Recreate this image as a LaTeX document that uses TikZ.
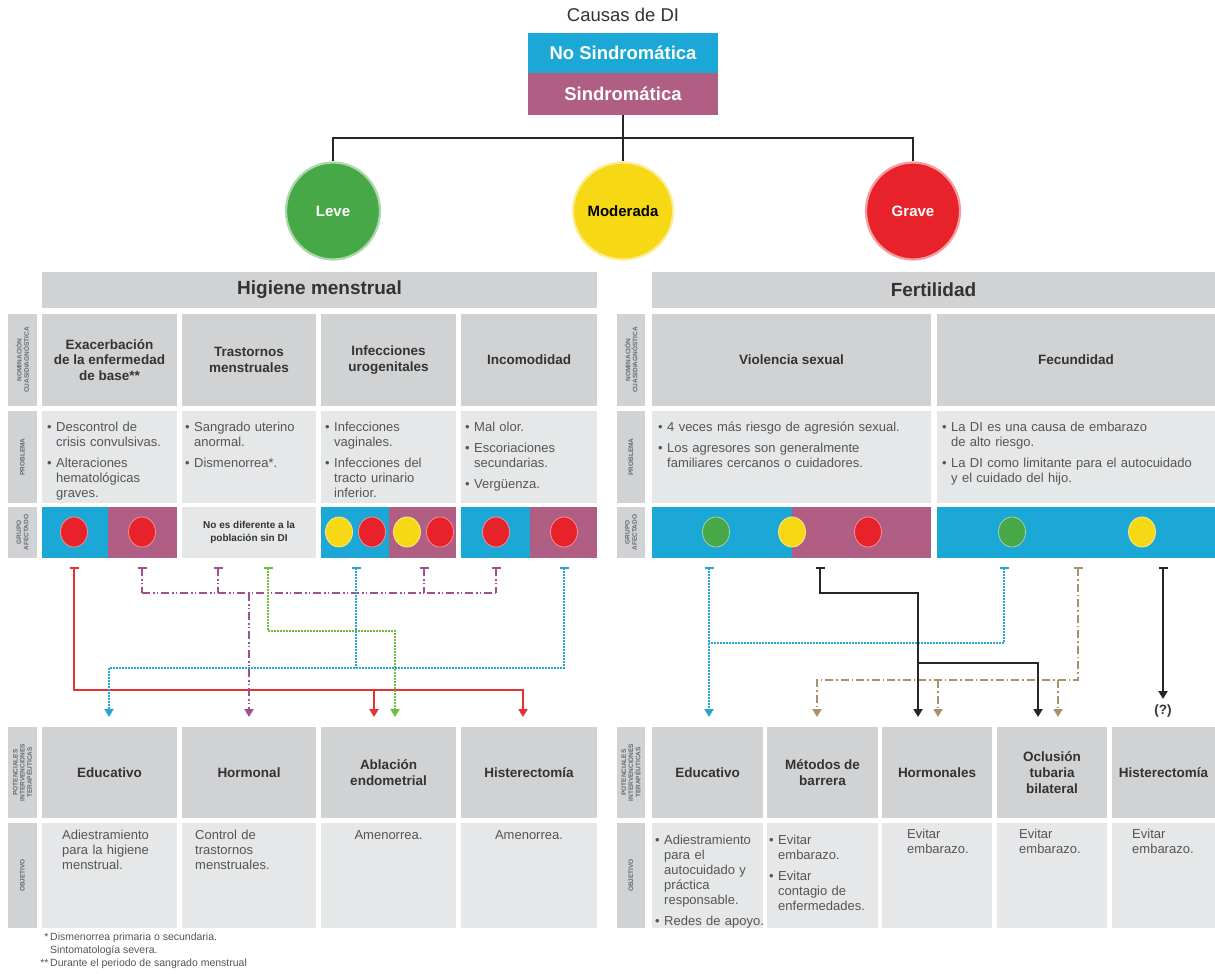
\documentclass[tikz,border=0pt]{standalone}
\usepackage{fontspec}
\setmainfont{Liberation Sans}
\usetikzlibrary{arrows.meta,shapes.geometric}
\definecolor{hdr}{RGB}{209,210,212}
\definecolor{lite}{RGB}{230,231,232}
\definecolor{cblue}{RGB}{27,168,214}
\definecolor{cmauve}{RGB}{176,94,132}
\definecolor{cgreen}{RGB}{70,168,70}
\definecolor{cyellow}{RGB}{246,216,20}
\definecolor{cred}{RGB}{232,34,43}
\definecolor{txt}{RGB}{51,51,51}
\definecolor{bodyg}{RGB}{85,85,85}
\definecolor{labg}{RGB}{105,106,110}
\definecolor{lred}{RGB}{228,50,50}
\definecolor{lgreen}{RGB}{110,190,60}
\definecolor{lblue}{RGB}{40,165,215}
\definecolor{lpurple}{RGB}{160,80,145}
\definecolor{lbrown}{RGB}{170,145,110}
\newcommand{\brk}{\hfil\break}
\newcommand{\itm}[1]{\par\hangindent=9pt\hangafter=1\noindent\makebox[9pt][l]{\textbullet}#1\par\vspace{6pt}}
\begin{document}
\begin{tikzpicture}[x=1pt,y=-1pt,
  cellbox/.style={draw=none, inner sep=0pt, outer sep=0pt},
  hd/.style={cellbox, fill=hdr, text=txt, font=\fontsize{13.5}{15.5}\selectfont\bfseries, align=center},
  bighd/.style={cellbox, fill=hdr, text=txt, font=\fontsize{19}{21}\selectfont\bfseries},
  lt/.style={cellbox, fill=lite},
  bl/.style={cellbox, fill=cblue},
  mv/.style={cellbox, fill=cmauve},
  labn/.style={cellbox, fill=hdr, rotate=90, text=labg, align=center, font=\fontsize{6.5}{7.2}\selectfont\bfseries},
  body/.style={anchor=north west, inner sep=0pt, text width=#1, align=left, text=bodyg, font=\fontsize{13}{15}\selectfont},
  body/.default=130pt,
  gdot/.style={ellipse, fill=#1, draw=#1!50!white, line width=0.8pt, minimum width=27pt, minimum height=30pt, inner sep=0pt},
  bigc/.style={ellipse, fill=#1, draw=#1!45!white, line width=2.2pt, minimum width=94pt, minimum height=97pt, inner sep=0pt, font=\fontsize{15}{17}\selectfont\bfseries},
  topln/.style={line width=2.2pt, draw=black!85},
  conn/.style={line width=2pt},
  cr/.style={conn, draw=lred},
  ck/.style={conn, draw=black!85},
  cbd/.style={conn, draw=lblue, dash pattern=on 1.6pt off 1.4pt},
  cgd/.style={conn, draw=lgreen, dash pattern=on 1.6pt off 1.4pt},
  cpd/.style={conn, draw=lpurple, dash pattern=on 8pt off 3pt on 1.5pt off 2pt on 1.5pt off 3pt},
  cnd/.style={conn, draw=lbrown, dash pattern=on 8pt off 3pt on 1.5pt off 3pt},
  tbar/.style={{Bar[width=9pt,line width=1.6pt]}-},
  tbarto/.style={{Bar[width=9pt,line width=1.6pt]}-{Triangle[width=9pt,length=8pt]}},
  toarr/.style={-{Triangle[width=9pt,length=8pt]}}
]
\useasboundingbox[fill=white] (0,0) rectangle (1215,974);

% ---------- top ----------
\node[font=\fontsize{18.5}{20}\selectfont, text=txt] (title) at (623,15) {Causas de DI};
\node[cellbox, fill=cblue, minimum width=190pt, minimum height=40pt, text=white, font=\fontsize{18.5}{20}\selectfont\bfseries] (nosind) at (623,53) {No Sindromática};
\node[cellbox, fill=cmauve, minimum width=190pt, minimum height=42pt, text=white, font=\fontsize{18.5}{20}\selectfont\bfseries] (sind) at (623,94) {Sindromática};

\node[bigc=cgreen, text=white] (leve) at (333,211) {Leve};
\node[bigc=cyellow, text=black] (moder) at (623,211) {Moderada};
\node[bigc=cred, text=white] (grave) at (913,211) {Grave};

\coordinate (hz) at (623,138);
\draw[topln] (sind.south) -- (moder.north);
\draw[topln] (leve.north) -- (leve.north|-hz) -- (grave.north|-hz) -- (grave.north);

% ---------- headers ----------
\node[bighd, minimum width=555pt, minimum height=36pt] (hig) at (319.5,290) {Higiene menstrual};
\node[bighd, minimum width=563pt, minimum height=36pt] (fert) at (933.5,290) {Fertilidad};

% ---------- label columns ----------
\node[labn, minimum width=92pt, minimum height=29pt] (lL1) at (22.5,360) {NOMINACIÓN\\CUASIDIAGNÓSTICA};
\node[labn, minimum width=92pt, minimum height=29pt] (lL2) at (22.5,457) {PROBLEMA};
\node[labn, minimum width=51pt, minimum height=29pt] (lL3) at (22.5,532.5) {GRUPO\\AFECTADO};
\node[labn, minimum width=91pt, minimum height=29pt] (lL4) at (22.5,772.5) {POTENCIALES\\INTERVENCIONES\\TERAPÉUTICAS};
\node[labn, minimum width=105pt, minimum height=29pt] (lL5) at (22.5,875.5) {OBJETIVO};

\node[labn, minimum width=92pt, minimum height=28pt] (rL1) at (631,360) {NOMINACIÓN\\CUASIDIAGNÓSTICA};
\node[labn, minimum width=92pt, minimum height=28pt] (rL2) at (631,457) {PROBLEMA};
\node[labn, minimum width=51pt, minimum height=28pt] (rL3) at (631,532.5) {GRUPO\\AFECTADO};
\node[labn, minimum width=91pt, minimum height=28pt] (rL4) at (631,772.5) {POTENCIALES\\INTERVENCIONES\\TERAPÉUTICAS};
\node[labn, minimum width=105pt, minimum height=28pt] (rL5) at (631,875.5) {OBJETIVO};

% ---------- left table ----------
\node[hd, minimum width=135pt, minimum height=92pt] (a1) at (109.5,360) {Exacerbación\\de la enfermedad\\de base**};
\node[hd, minimum width=134pt, minimum height=92pt] (a2) at (249,360) {Trastornos\\menstruales};
\node[hd, minimum width=135pt, minimum height=92pt] (a3) at (388.5,360) {Infecciones\\urogenitales};
\node[hd, minimum width=136pt, minimum height=92pt] (a4) at (529,360) {Incomodidad};

\node[lt, minimum width=135pt, minimum height=92pt] (b1) at (109.5,457) {};
\node[lt, minimum width=134pt, minimum height=92pt] (b2) at (249,457) {};
\node[lt, minimum width=135pt, minimum height=92pt] (b3) at (388.5,457) {};
\node[lt, minimum width=136pt, minimum height=92pt] (b4) at (529,457) {};
\node[body] (tb1) at (47,416) {\itm{Descontrol de\brk crisis convulsivas.}\itm{Alteraciones\brk hematológicas\brk graves.}};
\node[body] (tb2) at (185,416) {\itm{Sangrado uterino\brk anormal.}\itm{Dismenorrea*.}};
\node[body] (tb3) at (325,416) {\itm{Infecciones\brk vaginales.}\itm{Infecciones del\brk tracto urinario\brk inferior.}};
\node[body] (tb4) at (465,416) {\itm{Mal olor.}\itm{Escoriaciones\brk secundarias.}\itm{Vergüenza.}};

\node[bl, minimum width=66pt, minimum height=51pt] (g1a) at (75,532.5) {};
\node[mv, minimum width=69pt, minimum height=51pt] (g1b) at (142.5,532.5) {};
\node[lt, minimum width=134pt, minimum height=51pt, align=center, text=txt, font=\fontsize{10}{12.5}\selectfont\bfseries] (g2) at (249,532.5) {No es diferente a la\\población sin DI};
\node[bl, minimum width=68pt, minimum height=51pt] (g3a) at (355,532.5) {};
\node[mv, minimum width=67pt, minimum height=51pt] (g3b) at (422.5,532.5) {};
\node[bl, minimum width=69pt, minimum height=51pt] (g4a) at (495.5,532.5) {};
\node[mv, minimum width=67pt, minimum height=51pt] (g4b) at (563.5,532.5) {};
\node[gdot=cred] (d1) at (74,532) {};
\node[gdot=cred] (d2) at (142,532) {};
\node[gdot=cyellow] (d3) at (339,532) {};
\node[gdot=cred] (d4) at (372,532) {};
\node[gdot=cyellow] (d5) at (407,532) {};
\node[gdot=cred] (d6) at (440,532) {};
\node[gdot=cred] (d7) at (496,532) {};
\node[gdot=cred] (d8) at (564,532) {};

\node[hd, minimum width=135pt, minimum height=91pt] (e1) at (109.5,772.5) {Educativo};
\node[hd, minimum width=134pt, minimum height=91pt] (e2) at (249,772.5) {Hormonal};
\node[hd, minimum width=135pt, minimum height=91pt] (e3) at (388.5,772.5) {Ablación\\endometrial};
\node[hd, minimum width=136pt, minimum height=91pt] (e4) at (529,772.5) {Histerectomía};

\node[lt, minimum width=135pt, minimum height=105pt] (f1) at (109.5,875.5) {};
\node[lt, minimum width=134pt, minimum height=105pt] (f2) at (249,875.5) {};
\node[lt, minimum width=135pt, minimum height=105pt] (f3) at (388.5,875.5) {};
\node[lt, minimum width=136pt, minimum height=105pt] (f4) at (529,875.5) {};
\node[body=110pt] (tf1) at (62,830) {Adiestramiento\\para la higiene\\menstrual.};
\node[body=110pt] (tf2) at (195,830) {Control de\\trastornos\\menstruales.};
\node[anchor=north, inner sep=0pt, text=bodyg, font=\fontsize{13}{15}\selectfont] (tf3) at (388.5,830) {Amenorrea.};
\node[anchor=north, inner sep=0pt, text=bodyg, font=\fontsize{13}{15}\selectfont] (tf4) at (529,830) {Amenorrea.};

% ---------- right table ----------
\node[hd, minimum width=279pt, minimum height=92pt] (A1) at (791.5,360) {Violencia sexual};
\node[hd, minimum width=278pt, minimum height=92pt] (A2) at (1076,360) {Fecundidad};
\node[lt, minimum width=279pt, minimum height=92pt] (B1) at (791.5,457) {};
\node[lt, minimum width=278pt, minimum height=92pt] (B2) at (1076,457) {};
\node[body=270pt] (TB1) at (658,416) {\itm{4 veces más riesgo de agresión sexual.}\itm{Los agresores son generalmente\brk familiares cercanos o cuidadores.}};
\node[body=270pt] (TB2) at (942,416) {\itm{La DI es una causa de embarazo\brk de alto riesgo.}\itm{La DI como limitante para el autocuidado\brk y el cuidado del hijo.}};

\node[bl, minimum width=140pt, minimum height=51pt] (G1a) at (722,532.5) {};
\node[mv, minimum width=139pt, minimum height=51pt] (G1b) at (861.5,532.5) {};
\node[bl, minimum width=278pt, minimum height=51pt] (G2) at (1076,532.5) {};
\node[gdot=cgreen] (D1) at (716,532) {};
\node[gdot=cyellow] (D2) at (792,532) {};
\node[gdot=cred] (D3) at (868,532) {};
\node[gdot=cgreen] (D4) at (1012,532) {};
\node[gdot=cyellow] (D5) at (1142,532) {};

\node[hd, minimum width=111pt, minimum height=91pt] (E1) at (707.5,772.5) {Educativo};
\node[hd, minimum width=111pt, minimum height=91pt] (E2) at (822.5,772.5) {Métodos de\\barrera};
\node[hd, minimum width=110pt, minimum height=91pt] (E3) at (937,772.5) {Hormonales};
\node[hd, minimum width=110pt, minimum height=91pt, font=\fontsize{13.5}{16}\selectfont\bfseries] (E4) at (1052,772.5) {Oclusión\\tubaria\\bilateral};
\node[hd, minimum width=103pt, minimum height=91pt] (E5) at (1163.5,772.5) {Histerectomía};

\node[lt, minimum width=111pt, minimum height=105pt] (F1) at (707.5,875.5) {};
\node[lt, minimum width=111pt, minimum height=105pt] (F2) at (822.5,875.5) {};
\node[lt, minimum width=110pt, minimum height=105pt] (F3) at (937,875.5) {};
\node[lt, minimum width=110pt, minimum height=105pt] (F4) at (1052,875.5) {};
\node[lt, minimum width=103pt, minimum height=105pt] (F5) at (1163.5,875.5) {};
\node[body=125pt] (TF1) at (655,829) {\itm{Adiestramiento\brk para el\brk autocuidado y\brk práctica\brk responsable.}\itm{Redes de apoyo.}};
\node[body=108pt] (TF2) at (769,829) {\itm{Evitar\brk embarazo.}\itm{Evitar\brk contagio de\brk enfermedades.}};
\node[body=80pt] (TF3) at (907,829) {Evitar\\embarazo.};
\node[body=80pt] (TF4) at (1019,829) {Evitar\\embarazo.};
\node[body=80pt] (TF5) at (1132,829) {Evitar\\embarazo.};

% ---------- footnotes ----------
\node[anchor=north west, inner sep=0pt, align=left, text=bodyg, font=\fontsize{10.5}{13}\selectfont] (foot) at (37,933)
  {\makebox[13pt][r]{*\,}Dismenorrea primaria o secundaria.\\\hspace*{13pt}Sintomatología severa.\\\makebox[13pt][r]{**\,}Durante el periodo de sangrado menstrual};

% ---------- left connectors ----------
\coordinate (rT) at (74,567); \coordinate (rY) at (0,690);
\coordinate (rA1) at (374,717); \coordinate (rA2) at (523,717);
\draw[cr, tbarto] (rT) -- (rT|-rY) -| (rA2);
\draw[cr, toarr] (rA1|-rY) -- (rA1);

\coordinate (pT1) at (142,567); \coordinate (pT2) at (218,567);
\coordinate (pT3) at (424,567); \coordinate (pT4) at (496,567);
\coordinate (pY) at (0,593); \coordinate (pA) at (249,717);
\foreach \c in {pT1,pT2,pT3,pT4} \draw[cpd, tbar] (\c) -- (\c|-pY);
\draw[cpd] (pT1|-pY) -- (pT4|-pY);
\draw[cpd, toarr] (pA|-pY) -- (pA);

\coordinate (gT) at (268,567); \coordinate (gY) at (0,631); \coordinate (gA) at (395,717);
\draw[cgd, tbarto] (gT) -- (gT|-gY) -| (gA);

\coordinate (bT1) at (356,567); \coordinate (bT2) at (564,567);
\coordinate (bY) at (0,668); \coordinate (bA) at (109,717);
\draw[cbd, tbarto] (bT2) -- (bT2|-bY) -| (bA);
\draw[cbd, tbar] (bT1) -- (bT1|-bY);

% ---------- right connectors ----------
\coordinate (BT1) at (709,567); \coordinate (BA) at (709,717);
\coordinate (BT2) at (1004,567); \coordinate (BY) at (0,643);
\draw[cbd, tbarto] (BT1) -- (BA);
\draw[cbd, tbar] (BT2) -- (BT2|-BY) -- (BT1|-BY);

\coordinate (nT) at (1078,567); \coordinate (nY) at (0,680);
\coordinate (nA1) at (817,717); \coordinate (nA2) at (938,717); \coordinate (nA3) at (1058,717);
\draw[cnd, tbarto] (nT) -- (nT|-nY) -| (nA1);
\draw[cnd, toarr] (nA2|-nY) -- (nA2);
\draw[cnd, toarr] (nA3|-nY) -- (nA3);

\coordinate (KT1) at (820,567); \coordinate (KY1) at (0,593);
\coordinate (KA1) at (918,717); \coordinate (KY2) at (0,663); \coordinate (KA2) at (1038,717);
\draw[ck, tbarto] (KT1) -- (KT1|-KY1) -| (KA1);
\draw[ck, toarr] (KA1|-KY2) -| (KA2);
\coordinate (KT2) at (1163,567); \coordinate (KA3) at (1163,699);
\draw[ck, tbarto] (KT2) -- (KA3);
\node[text=txt, font=\fontsize{13.5}{15}\selectfont\bfseries] (qm) at (1163,711) {(?)};
\end{tikzpicture}
\end{document}
